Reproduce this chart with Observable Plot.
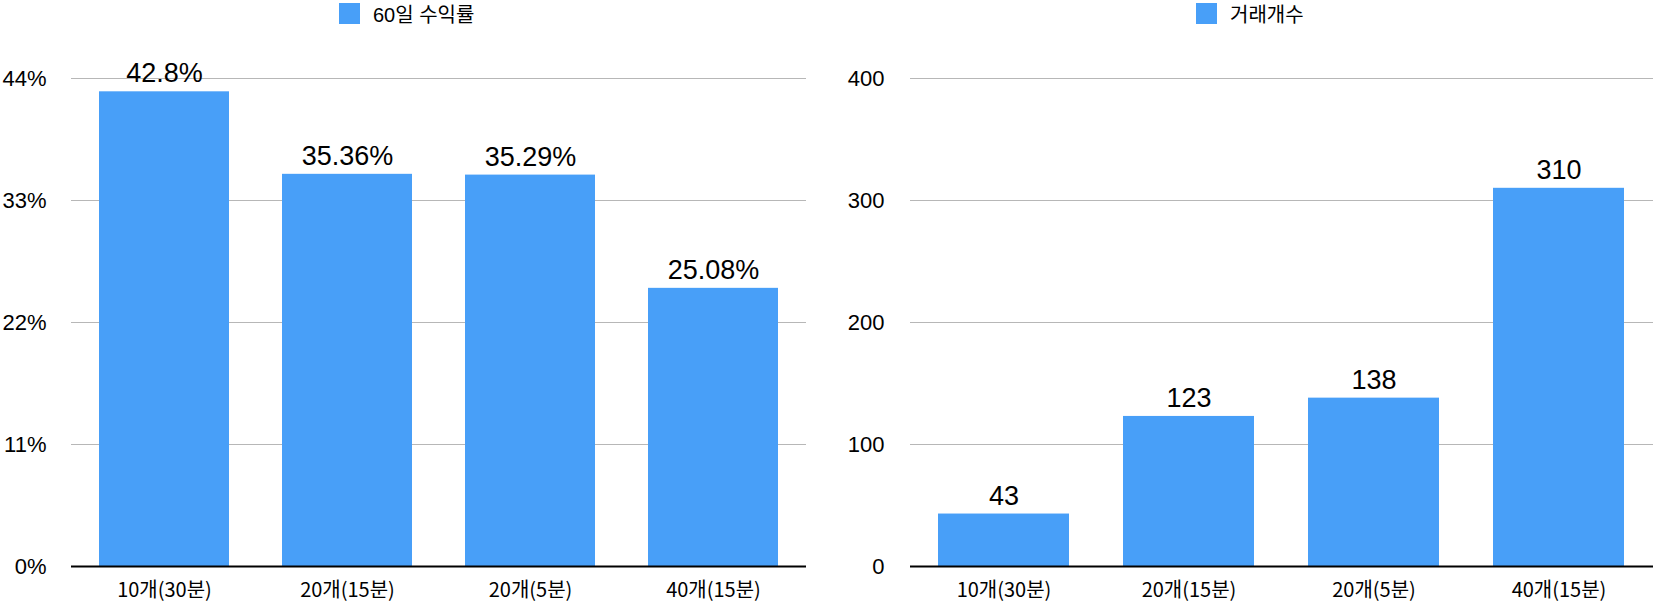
<!DOCTYPE html>
<html>
<head>
<meta charset="utf-8">
<script src="https://cdn.jsdelivr.net/npm/d3@7"></script>
<script src="https://cdn.jsdelivr.net/npm/@observablehq/plot@0.6"></script>
<style>
  body { margin: 0; background: #fff; }
  #wrap { position: relative; width: 1654px; height: 602px; overflow: hidden;
          font-family: "Liberation Sans", Arial, "Noto Sans CJK KR", sans-serif; color: #000; }
  .legend { position: absolute; top: 2px; height: 22px; display: flex; align-items: center;
            font-size: 20px; white-space: nowrap; }
  .legend .sw { width: 21px; height: 21px; background: #489ff8; margin-right: 13px; }
  .panel { position: absolute; top: 30px; }
</style>
</head>
<body>
<div id="wrap"></div>
<script>
const categories = ["10개(30분)", "20개(15분)", "20개(5분)", "40개(15분)"];
const returns = [42.8, 35.36, 35.29, 25.08];
const trades = [43, 123, 138, 310];
const returnTicks = [0, 11, 22, 33, 44];
const tradeTicks = [0, 100, 200, 300, 400];
const seriesNames = ["60일 수익률", "거래개수"];

const COLOR = "#489ff8";
const FONT = "\"Liberation Sans\", Arial, \"Noto Sans CJK KR\", sans-serif";
const wrap = document.getElementById("wrap");

function legend(name, left) {
  const d = document.createElement("div");
  d.className = "legend";
  d.style.left = left + "px";
  d.innerHTML = `<div class="sw"></div><span></span>`;
  d.querySelector("span").textContent = name;
  wrap.appendChild(d);
}

function chart(values, ticks, fmt, opts) {
  const data = categories.map((c, i) => ({cat: c, v: values[i]}));
  const p = Plot.plot({
    width: 827,
    height: 572,
    marginLeft: opts.marginLeft,
    marginRight: opts.marginRight,
    marginTop: 48,
    marginBottom: 36,
    style: {fontFamily: FONT, color: "#000", background: "transparent"},
    x: {domain: categories, paddingInner: 0.29, paddingOuter: 0.145, label: null},
    y: {domain: [ticks[0], ticks[ticks.length - 1]], label: null},
    marks: [
      Plot.gridY(ticks, {stroke: "#b7b7b7", strokeOpacity: 1, strokeWidth: 1}),
      Plot.barY(data, {x: "cat", y: "v", fill: COLOR}),
      Plot.ruleY([0], {stroke: "#000", strokeWidth: 2}),
      Plot.axisY(ticks, {tickSize: 0, tickPadding: opts.tickPad, tickFormat: fmt,
                         fontSize: 22, label: null}),
      Plot.axisX({tickSize: 0, tickPadding: 16, fontSize: 20, label: null,
                  fontFamily: "\"Noto Sans CJK KR\", \"Liberation Sans\", sans-serif"}),
      Plot.text(data, {x: "cat", y: "v", text: d => fmt(d.v), fontSize: 27,
                       lineAnchor: "middle", dy: -18, fill: "#000"})
    ]
  });
  p.classList.add("panel");
  p.style.left = opts.left + "px";
  wrap.appendChild(p);
}

legend(seriesNames[0], 339);
legend(seriesNames[1], 1196);
chart(returns, returnTicks, d => d + "%", {left: 0, marginLeft: 71, marginRight: 21, tickPad: 25});
chart(trades, tradeTicks, d => String(d), {left: 827, marginLeft: 83, marginRight: 1, tickPad: 26});
</script>
</body>
</html>
